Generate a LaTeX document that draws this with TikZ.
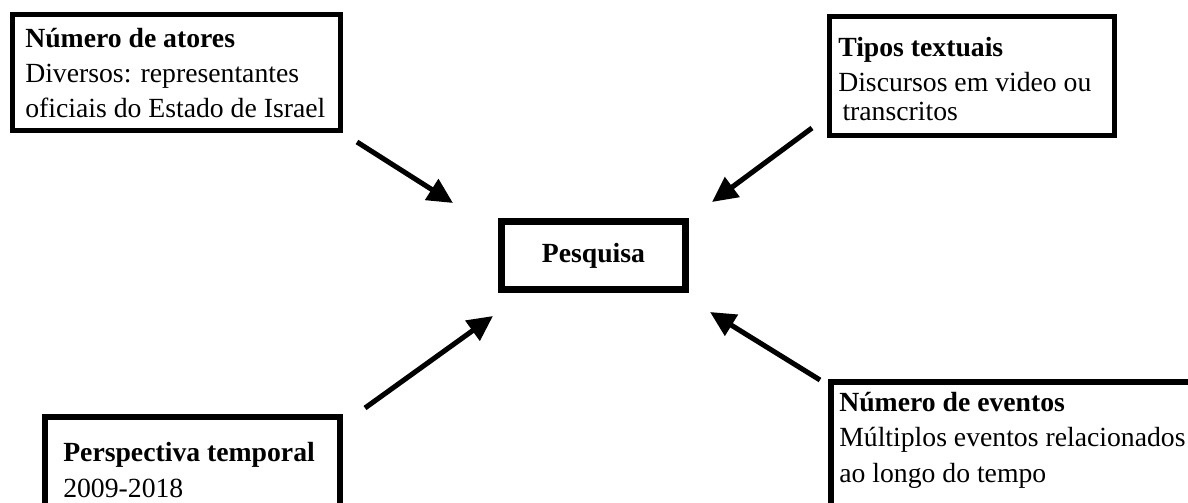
\documentclass[tikz,border=0pt]{standalone}
\usepackage{fontspec}
\setmainfont{Liberation Serif}
\usetikzlibrary{arrows.meta}
\tikzset{
	caixa/.style={line width=3.6pt},
	texto/.style={anchor=base west, inner sep=0pt, align=left, font=\fontsize{19.7}{24.9}\selectfont},
	seta/.style={line width=3.6pt, -{Triangle[length=18pt,width=17pt]}},
}

\begin{document}
\begin{tikzpicture}[x=0.025cm, y=-0.025cm]
			%%%%% START %%%%%
			\useasboundingbox (0,0) rectangle (1188,503);
			
			% caixa central
			\node[draw, line width=5pt, minimum width=4.6cm, minimum height=1.72cm, font=\fontsize{19.7}{24.9}\selectfont\bfseries] (pesquisa) at (593.5,255.5) {Pesquisa};
			
			% numero de atores (base = ultima linha)
			\draw[caixa] (12.5,14.5) rectangle (340.5,130.5);
			\node[texto] (atores) at (25,118) {\textbf{Número de atores}\\Diversos: representantes\\oficiais do Estado de Israel};
			
			% tipos textuais
			\draw[caixa] (829.5,16.5) rectangle (1114.5,135.5);
			\node[texto] (tipos) at (838,121) {\textbf{Tipos textuais}\\Discursos em video ou\\[-4pt]\hspace{3pt}transcritos};
			
			% perspectiva temporal
			\draw[caixa, line width=4.3pt] (45,417) rectangle (340,530);
			\node[texto] (temporal) at (63,497) {\textbf{Perspectiva temporal}\\2009-2018};
			
			% numero de eventos
			\draw[caixa, line width=4.3pt] (831,382) rectangle (1200,530);
			\node[texto] (eventos) at (839,482) {\textbf{Número de eventos}\\Múltiplos eventos relacionados\\ao longo do tempo};
			
			% setas
			\coordinate (s1) at (357,142);
			\coordinate (t1) at (453,203);
			\coordinate (s2) at (812,128);
			\coordinate (t2) at (712,202);
			\coordinate (s3) at (365,408);
			\coordinate (t3) at (493,316);
			\coordinate (s4) at (820,380);
			\coordinate (t4) at (710,312);
			\draw[seta] (s1) -- (t1);
			\draw[seta] (s2) -- (t2);
			\draw[seta] (s3) -- (t3);
			\draw[seta] (s4) -- (t4);
			
			%%%%% END %%%%%
\end{tikzpicture}
\end{document}
